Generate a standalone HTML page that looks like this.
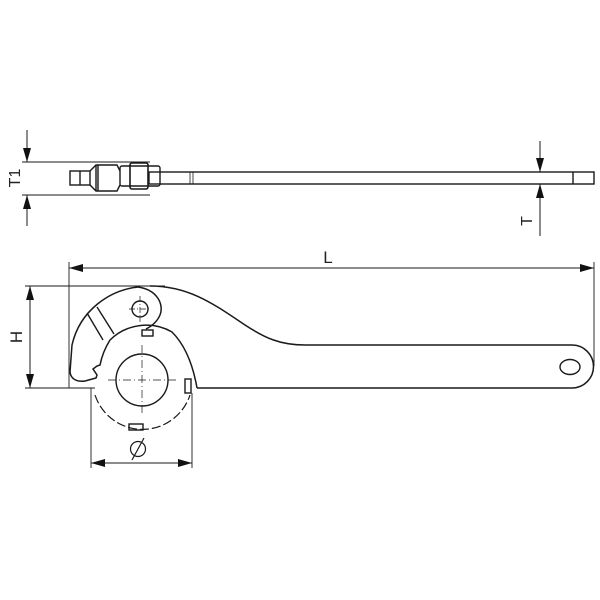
<!DOCTYPE html>
<html><head><style>body{margin:0;background:#fff}svg{display:block}</style></head>
<body>
<svg width="600" height="600" viewBox="0 0 600 600" xmlns="http://www.w3.org/2000/svg" fill="none" stroke="#1a1a1a" stroke-width="1.4" font-family="Liberation Sans, sans-serif">
<defs>
<marker id="a" viewBox="0 0 14 8" refX="14" refY="4" markerWidth="14" markerHeight="8" orient="auto" markerUnits="userSpaceOnUse"><path d="M0,0L14,4L0,8z" fill="#111" stroke="none"/></marker>
</defs>
<!-- top view -->
<line x1="22" y1="162" x2="150" y2="162" stroke-width="0.9"/>
<line x1="22" y1="195" x2="150" y2="195" stroke-width="0.9"/>
<line x1="27" y1="130" x2="27" y2="162" stroke-width="1" marker-end="url(#a)"/>
<line x1="27" y1="226" x2="27" y2="195" stroke-width="1" marker-end="url(#a)"/>
<text transform="translate(20,178) rotate(-90)" font-size="16" fill="#222" stroke="none" text-anchor="middle">T1</text>
<rect x="149" y="172" width="445" height="12"/>
<line x1="573" y1="172" x2="573" y2="184"/>
<line x1="190" y1="172" x2="190" y2="184" stroke-width="0.8"/>
<line x1="193" y1="172" x2="193" y2="184" stroke-width="0.8"/>
<rect x="70" y="171" width="20" height="14"/>
<line x1="80" y1="171" x2="80" y2="185"/>
<path d="M90,171 L96,165 L117,165 L120,171 M90,185 L96,191 L117,191 L120,185 M96,165 L96,191 M98,165 L98,191"/>
<rect x="120" y="166" width="40" height="20" rx="2"/>
<rect x="130" y="163" width="18" height="26" rx="2" stroke-width="1.6"/>
<line x1="540" y1="141" x2="540" y2="172" stroke-width="1" marker-end="url(#a)"/>
<line x1="540" y1="236" x2="540" y2="184" stroke-width="1" marker-end="url(#a)"/>
<text transform="translate(532,221) rotate(-90)" font-size="16" fill="#222" stroke="none" text-anchor="middle">T</text>
<!-- L dim -->
<line x1="69" y1="262" x2="69" y2="388" stroke-width="0.9"/>
<line x1="594" y1="262" x2="594" y2="366" stroke-width="0.9"/>
<line x1="594" y1="268" x2="69" y2="268" stroke-width="1" marker-end="url(#a)"/>
<line x1="69" y1="268" x2="594" y2="268" stroke-width="1" marker-end="url(#a)"/>
<text x="328" y="263" font-size="17" fill="#222" stroke="none" text-anchor="middle">L</text>
<!-- H dim -->
<line x1="25" y1="286" x2="165" y2="286" stroke-width="0.9"/>
<line x1="25" y1="388" x2="95" y2="388" stroke-width="0.9"/>
<line x1="30" y1="337" x2="30" y2="286" stroke-width="1" marker-end="url(#a)"/>
<line x1="30" y1="337" x2="30" y2="388" stroke-width="1" marker-end="url(#a)"/>
<text transform="translate(22,337) rotate(-90)" font-size="17" fill="#222" stroke="none" text-anchor="middle">H</text>
<!-- wrench body -->
<path d="M150,286 C190,286 215,305 245,325 C265,338 280,345 305,345 L572,345 A21.5,21.5 0 0 1 572,388 L197,388" stroke-width="1.5"/>
<ellipse cx="570" cy="367" rx="10" ry="7.5"/>
<!-- nut right outline -->
<path d="M110,340 A52,52 0 0 1 172,332 C185,345 193,365 197,388" stroke-width="1.5"/>
<!-- hook -->
<path d="M138,287 C110,290 80,310 72,345 L70,372 C71,380 78,382 85,381 L96,378 L97,375 L93,369 L97,366 L100,365 C102,355 105,348 110,340" stroke-width="1.5"/>
<path d="M138,287 C158,290 164,305 160,315 C157,322 152,326 146,329" stroke-width="1.5"/>
<line x1="87" y1="313" x2="103" y2="340"/>
<line x1="97" y1="307" x2="114" y2="334"/>
<!-- pin -->
<circle cx="140" cy="309" r="8"/>
<line x1="129" y1="309" x2="151" y2="309" stroke-width="0.7" stroke-dasharray="6,2,1,2"/>
<line x1="140" y1="296" x2="140" y2="322" stroke-width="0.7" stroke-dasharray="6,2,1,2"/>
<!-- nut -->
<path d="M95,395 A50,50 0 0 0 190,395" stroke-dasharray="9,3" stroke-width="1.2"/>
<rect x="142" y="330" width="11" height="6"/>
<rect x="185" y="379" width="6" height="14"/>
<rect x="129" y="424" width="14" height="6"/>
<circle cx="142" cy="380" r="26"/>
<line x1="108" y1="380" x2="178" y2="380" stroke-width="0.7" stroke-dasharray="8,3,1,3"/>
<line x1="142" y1="345" x2="142" y2="415" stroke-width="0.7" stroke-dasharray="8,3,1,3"/>
<!-- diameter dim -->
<line x1="91" y1="388" x2="91" y2="468" stroke-width="0.9"/>
<line x1="192" y1="393" x2="192" y2="468" stroke-width="0.9"/>
<line x1="141" y1="463" x2="91" y2="463" stroke-width="1" marker-end="url(#a)"/>
<line x1="141" y1="463" x2="192" y2="463" stroke-width="1" marker-end="url(#a)"/>
<circle cx="138" cy="449" r="7.5" stroke-width="1.2"/>
<line x1="132" y1="460" x2="144" y2="438" stroke-width="1.2"/>
</svg>
</body></html>
